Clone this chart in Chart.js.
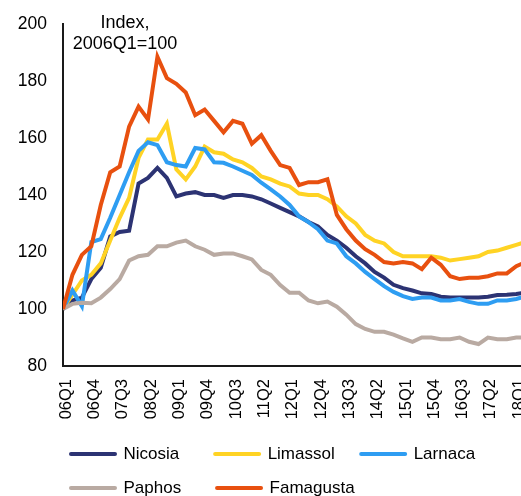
<!DOCTYPE html>
<html>
<head>
<meta charset="utf-8">
<script src="https://cdn.jsdelivr.net/npm/chart.js@4/dist/chart.umd.min.js"></script>
<style>
html,body{margin:0;padding:0;background:#fff;overflow:hidden}
#wrap{width:521px;height:496px;position:relative}
</style>
</head>
<body>
<div id="wrap"><canvas id="c" width="521" height="496"></canvas></div>
<script>
// ---- data ----
const quarters = ['06Q1','06Q2','06Q3','06Q4','07Q1','07Q2','07Q3','07Q4','08Q1','08Q2',
  '08Q3','08Q4','09Q1','09Q2','09Q3','09Q4','10Q1','10Q2','10Q3','10Q4',
  '11Q1','11Q2','11Q3','11Q4','12Q1','12Q2','12Q3','12Q4','13Q1','13Q2',
  '13Q3','13Q4','14Q1','14Q2','14Q3','14Q4','15Q1','15Q2','15Q3','15Q4',
  '16Q1','16Q2','16Q3','16Q4','17Q1','17Q2','17Q3','17Q4','18Q1','18Q2'];
const tickLabels = ['06Q1','06Q4','07Q3','08Q2','09Q1','09Q4','10Q3','11Q2','12Q1',
  '12Q4','13Q3','14Q2','15Q1','15Q4','16Q3','17Q2','18Q1'];
const yTicks = [80,100,120,140,160,180,200];
const seriesNames = ['Nicosia','Limassol','Larnaca','Paphos','Famagusta'];

const nicosia = [100,103,104,110.5,114.5,125.5,127,127.5,144,146,
  149.5,146,139.5,140.5,141,140,140,139,140,140,
  139.5,138.5,137,135.5,134,132.5,130.5,129,126,124,
  121.5,118.5,116,113,111,108.5,107.3,106.5,105.5,105.3,
  104.3,104,104,104,104,104.3,104.9,105,105.3,105.8];
const limassol = [100,105,110,112,116,124,132,139,153,159.5,
  159.5,165,149,145.5,150,157,155,154.5,152.5,151.5,
  149.5,146.5,145.5,144,143,140.5,140,140,138.5,136,
  132.5,130,126,124,123,120,118.5,118.5,118.5,118.5,
  118,117,117.5,118,118.5,120,120.5,121.5,122.5,123.5];
const larnaca = [100,106.5,101,123.5,124.5,132,140,148,155.5,158.5,
  157.5,151.5,150.5,150,156.5,156,151.5,151.3,150,148.5,
  147,144.3,142,139.5,136.5,132.5,130.5,128,124,123,
  118.5,116,113,110.5,108,106,104.5,103.5,104,104,
  103,103,103.5,102.5,101.8,101.8,103,103,103.5,104.5];
const paphos = [100,101.8,102.2,102,104,107,110.5,117,118.5,119,
  122,122,123.3,124,122,120.8,119,119.5,119.5,118.5,
  117.4,113.7,112,108.4,105.7,105.7,103,102,102.6,100.8,
  98,94.7,93,92,92,91,89.7,88.5,90,90,
  89.4,89.4,90,88.5,87.7,90,89.4,89.4,90,90];
const famagusta = [100,112,119,122,136.5,148,150,164,171,166.5,
  188.5,181,179,176,168,170,166,162,166,165,
  158,161,155.5,150.5,149.5,143.5,144.5,144.5,145.5,133,
  128,124,121,119,116.5,116,116.5,116,114,118,
  115.5,111.5,110.5,111,111,111.5,112.5,112.5,115,116.5];

const seriesValues = [nicosia, limassol, larnaca, paphos, famagusta];
const seriesColors = ['#2C3373','#FFD324','#2E9DF2','#B9AAA2','#E8500F'];

// ---- chart ----
const FONT = "'Liberation Sans', Arial, sans-serif";
Chart.defaults.font.family = FONT;
Chart.defaults.color = '#000';

const datasets = seriesNames.map((name, i) => ({
  label: name,
  data: seriesValues[i].map((v, k) => ({x: k, y: v})),
  borderColor: seriesColors[i],
  backgroundColor: seriesColors[i],
  borderWidth: 4,
  pointRadius: 0,
  pointHoverRadius: 0,
  tension: 0,
  fill: false,
  order: seriesNames.length - i
}));

const titlePlugin = {
  id: 'indexTitle',
  afterDraw(chart) {
    const ctx = chart.ctx;
    ctx.save();
    ctx.font = '18px ' + FONT;
    ctx.fillStyle = '#000';
    ctx.textAlign = 'center';
    ctx.textBaseline = 'alphabetic';
    ctx.fillText('Index,', 125, 28);
    ctx.fillText('2006Q1=100', 125, 49);
    ctx.restore();
  }
};

const LEGEND_FONT = 17;
const Y_FONT = 17.5;
const PAD_LEFT = 54;
const AXIS_X = 63;      // pixel position of the y axis line
const Y_LABEL_RIGHT = 47; // right edge of y tick labels

// width of the widest y label, so mirrored labels can be right-aligned outside
const measureCtx = document.createElement('canvas').getContext('2d');
measureCtx.font = Y_FONT + 'px ' + FONT;
const yWidest = Math.max(...yTicks.map(v => measureCtx.measureText(String(v)).width));

new Chart(document.getElementById('c'), {
  type: 'line',
  data: { datasets },
  plugins: [titlePlugin],
  options: {
    responsive: false,
    animation: false,
    devicePixelRatio: 1,
    layout: { padding: { top: 24, right: 0, bottom: -10.5, left: PAD_LEFT } },
    plugins: {
      tooltip: { enabled: false },
      legend: {
        position: 'bottom',
        align: 'start',
        labels: {
          font: { size: LEGEND_FONT },
          color: '#000',
          usePointStyle: true,
          pointStyleWidth: 44,
          boxHeight: 4,
          padding: 17,
          generateLabels(chart) {
            const ctx = chart.ctx;
            ctx.save();
            ctx.font = LEGEND_FONT + 'px ' + FONT;
            const items = seriesNames.map((name, i) => {
              let t = name;
              while (ctx.measureText(t).width < 74.5) t += ' ';
              return {
                text: t,
                fillStyle: seriesColors[i],
                strokeStyle: seriesColors[i],
                lineWidth: 4,
                lineCap: 'round',
                pointStyle: 'line',
                hidden: false,
                datasetIndex: i,
                fontColor: '#000'
              };
            });
            ctx.restore();
            return items;
          }
        }
      }
    },
    scales: {
      x: {
        type: 'linear',
        min: 0,
        max: 48.5,
        grid: { display: true, drawOnChartArea: false, drawTicks: false },
        border: { display: true, color: '#1a1a1a', width: 2 },
        afterBuildTicks(scale) {
          scale.ticks = tickLabels.map(t => ({ value: quarters.indexOf(t) }));
        },
        afterFit(scale) {
          scale.height = 62.5;
          scale.paddingLeft = 0;
          scale.paddingRight = 0;
        },
        ticks: {
          autoSkip: false,
          minRotation: 90,
          maxRotation: 90,
          padding: 13,
          labelOffset: 3,
          color: '#000',
          font: { size: 16.5 },
          callback: (v) => quarters[v]
        }
      },
      y: {
        min: 80,
        max: 200,
        grid: { display: true, drawOnChartArea: false, drawTicks: false },
        border: { display: true, color: '#1a1a1a', width: 2 },
        afterBuildTicks(scale) {
          scale.ticks = yTicks.map(v => ({ value: v }));
        },
        afterFit(scale) {
          scale.width = AXIS_X - PAD_LEFT;
        },
        ticks: {
          autoSkip: false,
          mirror: true,
          crossAlign: 'far',
          padding: Y_LABEL_RIGHT - AXIS_X - yWidest,
          color: '#000',
          font: { size: Y_FONT },
          callback: (v) => String(v)
        }
      }
    }
  }
});
</script>
</body>
</html>
